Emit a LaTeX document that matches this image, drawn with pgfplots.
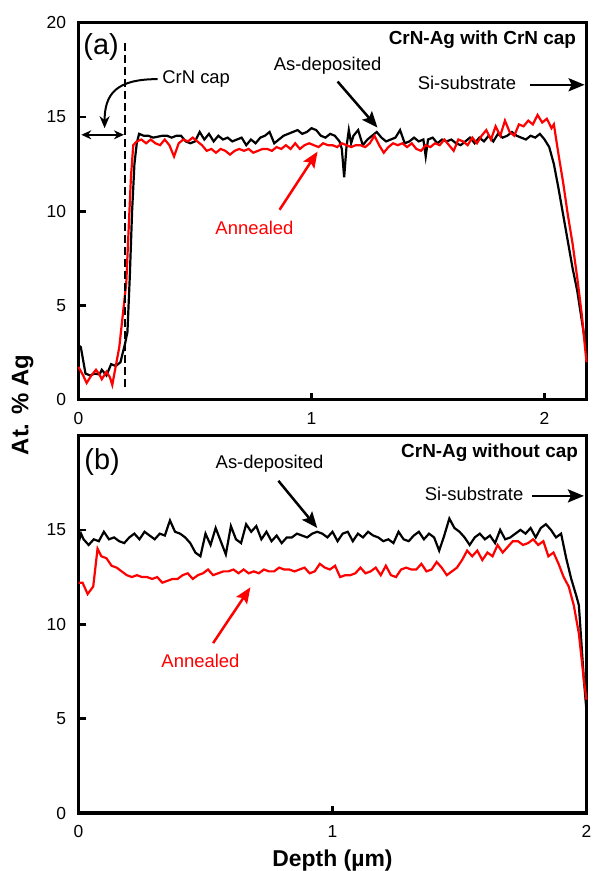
\documentclass[border=0pt]{standalone}
\usepackage{fontspec}
\setmainfont{Liberation Sans}
\usepackage{pgfplots}
\pgfplotsset{compat=1.18}
\usetikzlibrary{arrows.meta}

\pgfplotstableread{
x y
0.00 2.9
0.01 2.8
0.03 1.4
0.05 1.3
0.07 1.4
0.09 1.35
0.10 1.6
0.12 1.3
0.14 1.9
0.16 1.8
0.18 2.0
0.20 3.0
0.21 3.6
0.22 6.5
0.23 10.0
0.24 12.5
0.25 13.6
0.26 14.1
0.28 14.0
0.30 14.0
0.32 13.9
0.34 13.95
0.36 14.0
0.38 14.0
0.40 13.9
0.42 14.0
0.44 14.0
0.46 13.7
0.48 13.6
0.50 13.7
0.52 14.2
0.54 13.8
0.56 14.1
0.58 13.7
0.60 14.0
0.62 13.8
0.64 13.9
0.66 13.7
0.68 13.8
0.70 13.9
0.72 13.5
0.74 13.8
0.76 13.6
0.78 13.9
0.80 14.0
0.82 14.2
0.84 13.6
0.86 13.8
0.88 14.0
0.90 14.1
0.92 14.2
0.94 14.3
0.96 14.1
0.98 14.2
1.00 14.4
1.02 14.3
1.04 14.0
1.06 13.9
1.08 14.1
1.10 14.0
1.12 13.7
1.13 13.3
1.14 11.8
1.15 13.4
1.16 14.3
1.17 13.6
1.18 14.0
1.20 14.3
1.22 13.5
1.24 13.8
1.26 14.0
1.28 14.2
1.30 13.9
1.32 13.7
1.34 13.8
1.36 13.9
1.38 14.3
1.40 13.6
1.42 13.7
1.44 13.9
1.46 13.7
1.48 13.8
1.49 12.9
1.50 13.8
1.52 13.9
1.54 13.6
1.56 13.8
1.58 13.7
1.60 13.8
1.62 13.6
1.64 13.5
1.66 13.7
1.68 13.9
1.70 13.6
1.72 13.9
1.74 13.7
1.76 14.0
1.78 13.7
1.80 14.1
1.82 13.9
1.84 14.0
1.86 14.2
1.88 14.0
1.90 13.9
1.92 13.8
1.94 14.0
1.96 13.9
1.98 14.1
2.00 13.8
2.02 13.4
2.04 12.5
2.06 11.2
2.08 9.8
2.10 8.4
2.12 7.0
2.14 5.8
2.16 4.2
2.18 2.6
}\asdepA

\pgfplotstableread{
x y
0.00 1.75
0.02 1.3
0.035 0.9
0.055 1.3
0.075 1.6
0.09 1.35
0.10 1.1
0.12 1.5
0.135 1.2
0.145 0.8
0.16 1.8
0.175 2.8
0.19 4.5
0.205 6.2
0.215 9.0
0.225 11.8
0.235 13.5
0.25 13.7
0.27 13.8
0.29 13.6
0.31 13.8
0.33 13.6
0.35 13.5
0.37 13.8
0.39 13.5
0.41 12.9
0.43 13.6
0.45 13.8
0.47 13.7
0.49 13.9
0.51 13.7
0.53 13.5
0.55 13.2
0.57 13.3
0.59 13.1
0.61 13.3
0.63 13.2
0.65 13.0
0.67 13.2
0.69 13.3
0.71 13.2
0.73 13.3
0.75 13.1
0.77 13.2
0.79 13.3
0.81 13.3
0.83 13.2
0.85 13.4
0.87 13.3
0.89 13.5
0.91 13.3
0.93 13.6
0.95 13.3
0.97 13.5
0.99 13.6
1.01 13.5
1.03 13.4
1.05 13.6
1.07 13.5
1.09 13.5
1.11 13.4
1.13 13.6
1.15 13.5
1.17 13.4
1.19 13.5
1.21 13.5
1.23 13.4
1.25 13.6
1.27 14.0
1.29 13.5
1.31 13.1
1.33 13.4
1.35 13.6
1.37 13.5
1.39 13.6
1.41 13.4
1.43 13.6
1.45 13.3
1.47 13.2
1.49 13.5
1.51 13.4
1.53 13.6
1.55 13.5
1.57 13.8
1.59 13.5
1.61 13.2
1.63 13.8
1.65 13.7
1.67 13.5
1.69 13.9
1.71 13.6
1.73 14.0
1.75 14.3
1.77 13.8
1.79 14.5
1.81 14.0
1.83 14.8
1.85 14.2
1.87 14.0
1.89 14.6
1.91 14.5
1.93 14.8
1.95 14.6
1.97 15.1
1.99 14.7
2.01 14.9
2.03 14.4
2.04 14.6
2.06 13.0
2.08 11.5
2.10 9.8
2.12 8.3
2.14 6.5
2.16 4.5
2.18 2.0
}\annA

\pgfplotstableread{
x y
0.00 14.3
0.01 14.8
0.02 14.5
0.04 14.2
0.06 14.5
0.08 14.4
0.10 14.9
0.12 14.5
0.14 14.6
0.16 14.4
0.18 14.3
0.20 14.6
0.22 14.8
0.24 14.5
0.26 14.9
0.28 14.7
0.30 14.5
0.32 14.8
0.34 14.7
0.36 15.5
0.38 14.9
0.40 14.8
0.42 14.6
0.44 14.3
0.46 13.8
0.48 13.6
0.50 14.8
0.52 14.2
0.54 15.1
0.56 14.4
0.58 13.7
0.60 15.2
0.62 14.5
0.64 14.3
0.66 15.3
0.68 14.9
0.70 15.2
0.72 14.5
0.74 14.9
0.76 14.4
0.78 14.7
0.80 14.3
0.82 14.6
0.84 14.6
0.86 14.8
0.88 14.7
0.90 14.6
0.92 14.8
0.94 14.9
0.96 14.8
0.98 14.6
1.00 14.9
1.02 14.4
1.04 14.8
1.06 14.9
1.08 14.4
1.10 14.8
1.12 14.6
1.14 14.9
1.16 14.7
1.18 14.6
1.20 14.4
1.22 14.5
1.24 14.3
1.26 14.9
1.28 14.5
1.30 14.4
1.32 14.7
1.34 14.9
1.36 14.5
1.38 14.8
1.40 14.6
1.42 13.9
1.44 14.7
1.46 15.6
1.48 15.1
1.50 14.9
1.52 14.6
1.54 14.2
1.56 14.6
1.58 14.8
1.60 14.5
1.62 14.7
1.64 14.3
1.66 15.0
1.68 14.5
1.70 14.6
1.72 14.8
1.74 15.0
1.76 14.8
1.78 15.1
1.80 14.6
1.82 15.1
1.84 15.3
1.86 15.0
1.88 14.6
1.90 14.8
1.92 13.5
1.94 12.4
1.96 11.5
1.97 11.0
1.98 9.0
1.99 7.0
2.00 5.4
}\asdepB

\pgfplotstableread{
x y
0.00 12.2
0.016 12.2
0.036 11.6
0.058 12.0
0.075 14.0
0.09 13.6
0.11 13.5
0.13 13.1
0.15 13.0
0.17 12.8
0.19 12.6
0.21 12.5
0.23 12.6
0.25 12.5
0.27 12.5
0.29 12.4
0.31 12.5
0.33 12.2
0.35 12.3
0.37 12.4
0.39 12.4
0.41 12.6
0.43 12.7
0.45 12.4
0.47 12.6
0.49 12.7
0.51 12.9
0.53 12.6
0.55 12.7
0.57 12.8
0.59 12.8
0.61 12.9
0.63 12.7
0.65 12.9
0.67 12.7
0.69 12.8
0.71 12.7
0.73 12.9
0.75 12.8
0.77 12.8
0.79 13.0
0.81 12.9
0.83 12.9
0.85 12.8
0.87 12.9
0.89 13.0
0.91 12.7
0.93 12.8
0.95 13.2
0.97 13.0
0.99 12.9
1.01 13.1
1.03 12.5
1.05 12.6
1.07 12.6
1.09 12.7
1.11 13.0
1.13 12.7
1.15 12.8
1.17 13.0
1.19 12.6
1.21 13.1
1.23 12.6
1.25 12.5
1.27 12.9
1.29 13.0
1.31 12.9
1.33 12.9
1.35 13.2
1.37 12.8
1.39 12.9
1.41 13.3
1.43 13.0
1.45 12.6
1.47 12.8
1.49 13.0
1.51 13.4
1.53 13.9
1.55 13.6
1.57 13.9
1.59 13.4
1.61 13.8
1.63 13.6
1.65 14.2
1.67 13.8
1.69 14.1
1.71 14.4
1.73 14.4
1.75 14.2
1.77 14.3
1.79 14.5
1.81 14.2
1.83 14.4
1.85 13.6
1.87 13.8
1.89 13.2
1.91 12.5
1.93 12.0
1.95 11.0
1.97 9.5
1.99 7.0
2.00 6.0
}\annB

\pgfplotsset{
  panel/.style={
    scale only axis, width=508bp, height=377.5bp,
    ymin=0, ymax=20,
    axis line style={line width=3bp},
    tick style={line width=2.6bp, black},
    major tick length=7bp,
    tick align=inside, tick pos=left,
    ticklabel style={font=\fontsize{17.5}{18}\selectfont},
    yticklabel style={xshift=-9bp},
    xticklabel style={yshift=-9bp},
    /pgf/number format/assume math mode=true,
    clip=false,
  },
  blk/.style={black, line width=2.2bp},
  rd/.style={red, line width=2.2bp},
}
\tikzset{
  ann/.style={font=\fontsize{18.5}{20}\selectfont},
  ttl/.style={font=\bfseries\fontsize{19}{20}\selectfont},
  arr/.style={line width=2.5bp, -{Stealth[length=16bp,width=13bp,inset=3bp]}},
}

\begin{document}
\begin{tikzpicture}
\useasboundingbox (-78.5bp,-58bp) rectangle (514.5bp,813bp);

% Panel (a)
\begin{axis}[panel, at={(0,413bp)}, anchor=south west,
  xmin=0, xmax=2.18, xtick={0,1,2}, ytick={0,5,10,15,20}]
\addplot[blk] table[x=x,y=y] {\asdepA};
\addplot[rd] table[x=x,y=y] {\annA};
\node[font=\fontsize{29}{30}\selectfont] at (axis cs:0.097,18.7) {(a)};
\draw[line width=1.6bp, dash pattern=on 8bp off 4bp] (axis cs:0.2,0.7) -- (axis cs:0.2,19.0);
\draw[line width=1.8bp, {Stealth[length=10bp,width=9bp]}-{Stealth[length=10bp,width=9bp]}] (axis cs:0.012,14.05) -- (axis cs:0.195,14.05);
\node[ann, anchor=west] at (axis cs:0.345,17.0) {CrN cap};
\draw[line width=2bp, -{Stealth[length=12bp,width=10bp]}] (axis cs:0.34,17.0) .. controls (axis cs:0.16,17.0) and (axis cs:0.112,16.2) .. (axis cs:0.112,14.4);
\node[ann, anchor=base] at (axis cs:1.069,17.45) {As-deposited};
\draw[arr] (axis cs:1.112,16.87) -- (axis cs:1.283,14.43);
\node[ann, red, anchor=base] at (axis cs:0.755,8.75) {Annealed};
\draw[arr, red] (axis cs:0.863,10.08) -- (axis cs:1.026,13.16);
\node[ttl, anchor=base east] at (axis cs:2.15,18.83) {CrN-Ag with CrN cap};
\node[ann, anchor=base east] at (axis cs:1.893,16.45) {Si-substrate};
\draw[arr] (axis cs:1.936,16.7) -- (axis cs:2.172,16.7);
\end{axis}

% Panel (b)
\begin{axis}[panel, at={(0,0)}, anchor=south west,
  xmin=0, xmax=2, xtick={0,1,2}, ytick={0,5,10,15}]
\addplot[blk] table[x=x,y=y] {\asdepB};
\addplot[rd] table[x=x,y=y] {\annB};
\node[font=\fontsize{29}{30}\selectfont] at (axis cs:0.093,18.57) {(b)};
\node[ann, anchor=base] at (axis cs:0.752,18.25) {As-deposited};
\draw[arr] (axis cs:0.787,17.6) -- (axis cs:0.94,15.1);
\node[ann, red, anchor=base] at (axis cs:0.48,7.72) {Annealed};
\draw[arr, red] (axis cs:0.53,9.0) -- (axis cs:0.677,11.96);
\node[ttl, anchor=base east] at (axis cs:1.98,18.85) {CrN-Ag without cap};
\node[ann, anchor=base east] at (axis cs:1.765,16.55) {Si-substrate};
\draw[arr] (axis cs:1.785,16.8) -- (axis cs:1.99,16.8);
\end{axis}

\node[rotate=90, font=\bfseries\fontsize{24}{26}\selectfont] at (-56bp,408bp) {At. \% Ag};
\node[anchor=base, font=\bfseries\fontsize{23}{25}\selectfont] at (254bp,-53bp) {Depth (µm)};
\end{tikzpicture}
\end{document}
